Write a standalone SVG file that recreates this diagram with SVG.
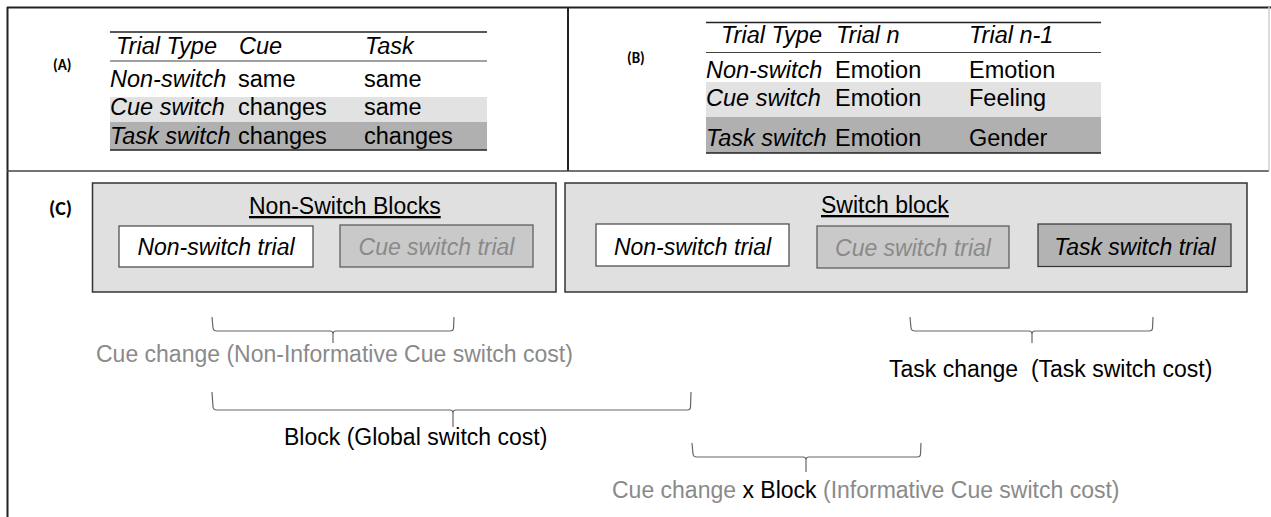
<svg xmlns="http://www.w3.org/2000/svg" width="1271" height="517" viewBox="0 0 1271 517">
  <style>
    text { font-family: "Liberation Sans", Arial, sans-serif; font-size: 23px; fill: #000; }
    .it { font-style: italic; }
    .tbl { font-size: 23.5px; }
    .gray { fill: #8a8a8a; }
    .lbl { font-family: "Carlito", "Lato", "Liberation Sans", sans-serif; font-weight: bold; }
    .title { text-decoration: underline; }
    .frame { stroke: #222; stroke-width: 2; fill: none; }
    .rule { stroke: #222; stroke-width: 1.5; }
    .rule-thin { stroke: #444; stroke-width: 1.2; }
    .block { fill: #e0e0e0; stroke: #333; stroke-width: 1.5; }
    .trial-plain { fill: #fff; stroke: #444; stroke-width: 1.2; }
    .trial-cue { fill: #c9c9c9; stroke: #555; stroke-width: 1.2; }
    .trial-task { fill: #b3b3b3; stroke: #333; stroke-width: 1.2; }
    .brace { fill: none; stroke: #666; stroke-width: 1.2; }
    .row-light { fill: #e2e2e2; }
    .row-dark { fill: #b0b0b0; }
  </style>

  <!-- outer frame and panel dividers -->
  <g id="frame">
    <line x1="7" y1="7.5" x2="1271" y2="7.5" class="frame"/>
    <line x1="7.5" y1="7" x2="7.5" y2="517" class="frame"/>
    <line x1="568" y1="7" x2="568" y2="171" class="frame"/>
    <line x1="7" y1="171" x2="1269" y2="171" stroke="#444" stroke-width="1.4"/>
    <line x1="1269" y1="7" x2="1269" y2="171" stroke="#cfcfcf" stroke-width="1.5"/>
  </g>

  <!-- panel A: cue / task table -->
  <g id="panel-a">
    <text class="lbl" x="53" y="70" style="font-size:15px">(A)</text>
    <rect class="row-light" x="110" y="97" width="377" height="25"/>
    <rect class="row-dark" x="110" y="122" width="377" height="28"/>
    <line class="rule" x1="110" y1="32" x2="487" y2="32"/>
    <line class="rule-thin" x1="110" y1="61" x2="487" y2="61"/>
    <line class="rule" x1="110" y1="150" x2="487" y2="150"/>
    <text class="tbl it" x="116" y="54">Trial Type</text>
    <text class="tbl it" x="239" y="54">Cue</text>
    <text class="tbl it" x="365" y="54">Task</text>
    <text class="tbl it" x="110" y="87">Non-switch</text>
    <text class="tbl" x="238" y="87">same</text>
    <text class="tbl" x="364" y="87">same</text>
    <text class="tbl it" x="110" y="115">Cue switch</text>
    <text class="tbl" x="238" y="115">changes</text>
    <text class="tbl" x="364" y="115">same</text>
    <text class="tbl it" x="110" y="144">Task switch</text>
    <text class="tbl" x="238" y="144">changes</text>
    <text class="tbl" x="364" y="144">changes</text>
  </g>

  <!-- panel B: trial n / trial n-1 table -->
  <g id="panel-b">
    <text class="lbl" x="627" y="63" style="font-size:15px">(B)</text>
    <rect class="row-light" x="706" y="82" width="395" height="35"/>
    <rect class="row-dark" x="706" y="117" width="395" height="36"/>
    <line class="rule" x1="706" y1="22.5" x2="1101" y2="22.5"/>
    <line class="rule-thin" x1="706" y1="52.5" x2="1101" y2="52.5"/>
    <line class="rule" x1="706" y1="153" x2="1101" y2="153"/>
    <text class="tbl it" x="721" y="43">Trial Type</text>
    <text class="tbl it" x="836" y="43">Trial n</text>
    <text class="tbl it" x="969" y="43">Trial n-1</text>
    <text class="tbl it" x="706" y="78">Non-switch</text>
    <text class="tbl" x="835" y="78">Emotion</text>
    <text class="tbl" x="969" y="78">Emotion</text>
    <text class="tbl it" x="706" y="106">Cue switch</text>
    <text class="tbl" x="835" y="106">Emotion</text>
    <text class="tbl" x="969" y="106">Feeling</text>
    <text class="tbl it" x="706" y="146">Task switch</text>
    <text class="tbl" x="835" y="146">Emotion</text>
    <text class="tbl" x="969" y="146">Gender</text>
  </g>

  <!-- panel C label -->
  <text id="label-c" class="lbl" x="49" y="215" style="font-size:20px">(C)</text>

  <!-- non-switch blocks -->
  <g id="non-switch-blocks">
    <rect class="block" x="92.5" y="183" width="463.5" height="109"/>
    <text class="title" x="249" y="214">Non-Switch Blocks</text>
  </g>
  <g id="ns-non-switch-trial">
    <rect class="trial-plain" x="119" y="226" width="194" height="41"/>
    <text class="it" x="216" y="255" text-anchor="middle">Non-switch trial</text>
  </g>
  <g id="ns-cue-switch-trial">
    <rect class="trial-cue" x="340" y="225" width="193" height="42"/>
    <text class="it gray" x="436.5" y="255" text-anchor="middle">Cue switch trial</text>
  </g>

  <!-- switch block -->
  <g id="switch-block">
    <rect class="block" x="565" y="183" width="682" height="109"/>
    <text class="title" x="821" y="213">Switch block</text>
  </g>
  <g id="sw-non-switch-trial">
    <rect class="trial-plain" x="596" y="224" width="193" height="42"/>
    <text class="it" x="692.5" y="255" text-anchor="middle">Non-switch trial</text>
  </g>
  <g id="sw-cue-switch-trial">
    <rect class="trial-cue" x="817" y="226" width="192" height="42"/>
    <text class="it gray" x="913" y="256" text-anchor="middle">Cue switch trial</text>
  </g>
  <g id="sw-task-switch-trial">
    <rect class="trial-task" x="1038" y="224" width="193" height="42.5"/>
    <text class="it" x="1135" y="255" text-anchor="middle">Task switch trial</text>
  </g>

  <!-- cost braces -->
  <g id="connectors">
    <path class="brace" d="M212 317 L213 328 Q213.5 331 217 331 L330 331 Q333 331 333 334 L333 343 M333 334 Q333 331 336 331 L450 331 Q453.5 331 453.5 328 L454 317"/>
    <path class="brace" d="M212 392 L213 407 Q213.5 410 217 410 L450 410 Q453 410 453 413 L453 427 M453 413 Q453 410 456 410 L687 410 Q690.5 410 690.5 407 L691 392"/>
    <path class="brace" d="M910 317 L911 328 Q911.5 331 915 331 L1029 331 Q1032 331 1032 334 L1032 343 M1032 334 Q1032 331 1035 331 L1149 331 Q1152.5 331 1152.5 328 L1153 317"/>
    <path class="brace" d="M692 443 L693 454 Q693.5 457 697 457 L803 457 Q806 457 806 460 L806 472 M806 460 Q806 457 809 457 L917 457 Q920.5 457 920.5 454 L921 443"/>
  </g>

  <!-- cost labels -->
  <g id="cost-cue">
    <text class="gray" x="96" y="362">Cue change (Non-Informative Cue switch cost)</text>
  </g>
  <g id="cost-block">
    <text x="284" y="445">Block (Global switch cost)</text>
  </g>
  <g id="cost-task">
    <text x="889" y="377" xml:space="preserve">Task change  (Task switch cost)</text>
  </g>
  <g id="cost-interaction">
    <text x="612" y="498"><tspan class="gray">Cue change </tspan><tspan>x Block</tspan><tspan class="gray"> (Informative Cue switch cost)</tspan></text>
  </g>
</svg>
